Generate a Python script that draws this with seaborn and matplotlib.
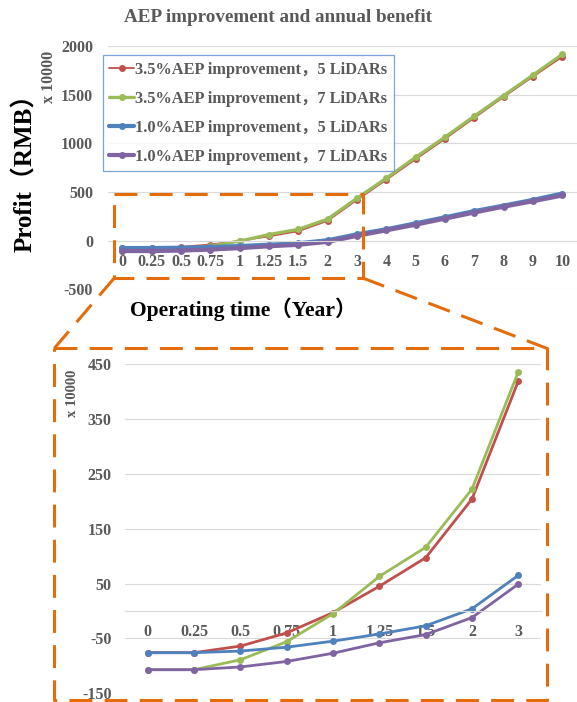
import numpy as np
import pandas as pd
import matplotlib
matplotlib.use("Agg")
import matplotlib.pyplot as plt
from matplotlib.lines import Line2D
import seaborn as sns

# Operating time categories (years) and profit series (x 10000 RMB)
years = ["0", "0.25", "0.5", "0.75", "1", "1.25", "1.5", "2", "3",
         "4", "5", "6", "7", "8", "9", "10"]
aep35_5 = [-76, -76, -64, -40, -3, 45, 97, 204, 419, 625, 837, 1046, 1262, 1477, 1686, 1890]
aep35_7 = [-107, -107, -89, -56, -5, 63, 116, 222, 436, 642, 857, 1064, 1280, 1491, 1702, 1915]
aep10_5 = [-76, -76, -73, -66, -55, -42, -27, 4, 65, 117, 178, 240, 304, 360, 419, 484]
aep10_7 = [-107, -107, -102, -92, -77, -58, -43, -12, 49, 106, 164, 226, 289, 349, 405, 464]
names = ["3.5%AEP improvement，5 LiDARs", "3.5%AEP improvement，7 LiDARs",
         "1.0%AEP improvement，5 LiDARs", "1.0%AEP improvement，7 LiDARs"]
n_zoom = 9  # first years shown in the magnified panel (0 .. 3)

colors = ["#C0504D", "#9BBB59", "#4F81BD", "#8064A2"]
top_lw = [1.3, 2.3, 3.0, 3.0]
series = [aep35_5, aep35_7, aep10_5, aep10_7]

sns.set_theme(style="white")
plt.rcParams["font.family"] = ["Liberation Serif", "Noto Sans CJK SC"]
plt.rcParams["font.weight"] = "bold"
plt.rcParams["axes.unicode_minus"] = False

W, H = 577, 702
fig = plt.figure(figsize=(W / 100, H / 100), dpi=100)


def fx(px):
    return px / W


def fy(py):
    return 1 - py / H


ax_top = fig.add_axes([fx(107.6), fy(289.3), fx(577) - fx(107.6), fy(46) - fy(289.3)])
ax_bot = fig.add_axes([fx(124.5), fy(693.3), fx(541.5) - fx(124.5), fy(364) - fy(693.3)])

grid_c = "#D9D9D9"
tick_c = "#595959"

handles = []
for vals, c, lw in zip(series, colors, top_lw):
    sns.lineplot(x=years, y=vals, ax=ax_top, color=c, lw=lw, marker="o",
                 markersize=5, markeredgewidth=0, sort=False, legend=False)
    handles.append(ax_top.lines[-1])

for vals, c in zip(series, colors):
    sns.lineplot(x=years[:n_zoom], y=vals[:n_zoom], ax=ax_bot, color=c, lw=2.0,
                 marker="o", markersize=5, markeredgewidth=0, sort=False, legend=False)

for ax, n, ylim, yt, ypad in [(ax_top, len(years), (-500, 2000), range(-500, 2001, 500), 10.5),
                              (ax_bot, n_zoom, (-150, 450), range(-150, 451, 100), 9.4)]:
    ax.set_xlim(-0.5, n - 0.5)
    ax.set_ylim(*ylim)
    ax.set_yticks(list(yt))
    ax.set_xlabel("")
    ax.set_ylabel("")
    for s in ["left", "right", "top"]:
        ax.spines[s].set_visible(False)
    ax.spines["bottom"].set_position(("data", 0))
    ax.spines["bottom"].set_color(grid_c)
    ax.spines["bottom"].set_linewidth(0.8)
    ax.yaxis.grid(True, color=grid_c, lw=0.8)
    ax.xaxis.grid(False)
    ax.set_axisbelow(True)
    ax.tick_params(axis="both", length=0, labelsize=11.5, labelcolor=tick_c)
    ax.tick_params(axis="y", pad=ypad)
    ax.tick_params(axis="x", pad=9.5)
    ax.patch.set_alpha(0)

leg = ax_top.legend(handles, names, loc="upper left",
                    bbox_to_anchor=(fx(102.7), fy(55)), bbox_transform=fig.transFigure,
                    borderaxespad=0, fontsize=11.8, frameon=True, fancybox=False,
                    handlelength=1.5, handletextpad=0.1, labelspacing=0.8,
                    borderpad=0.4, numpoints=1)
leg.get_frame().set_edgecolor("#5B8FD0")
leg.get_frame().set_linewidth(0.9)
for t in leg.get_texts():
    t.set_color(tick_c)

fig.text(fx(278), fy(18), "AEP improvement and annual benefit", ha="center", va="center",
         fontsize=13.8, color=tick_c, fontweight="bold")
fig.text(fx(25), fy(167), "Profit（RMB）", rotation=90, ha="center", va="center",
         fontsize=18, color="black", fontweight="bold")
fig.text(fx(243.5), fy(309), "Operating time（Year）", ha="center", va="center",
         fontsize=15.5, color="black", fontweight="bold")
fig.text(fx(49), fy(77), "x 10000", rotation=90, ha="center", va="center",
         fontsize=11.5, color=tick_c, fontweight="bold")
fig.text(fx(72), fy(393), "x 10000", rotation=90, ha="center", va="center",
         fontsize=10.5, color=tick_c, fontweight="bold")

# Dashed magnification frame linking the early years to the lower panel
dash_kw = dict(color="#E46C0A", lw=2.2, ls=(0, (7.5, 4)), transform=fig.transFigure)
paths = [
    [(114.3, 194), (362.7, 194), (362.7, 278), (114.3, 278), (114.3, 194)],
    [(54.3, 348.3), (546.7, 348.3), (546.7, 700), (54.3, 700), (54.3, 348.3)],
    [(114.3, 278), (54.3, 348.3)],
    [(362.7, 278), (546.7, 348.3)],
]
for p in paths:
    xs = [fx(a) for a, b in p]
    ys = [fy(b) for a, b in p]
    fig.add_artist(Line2D(xs, ys, **dash_kw))

fig.savefig("out.png", dpi=100)
